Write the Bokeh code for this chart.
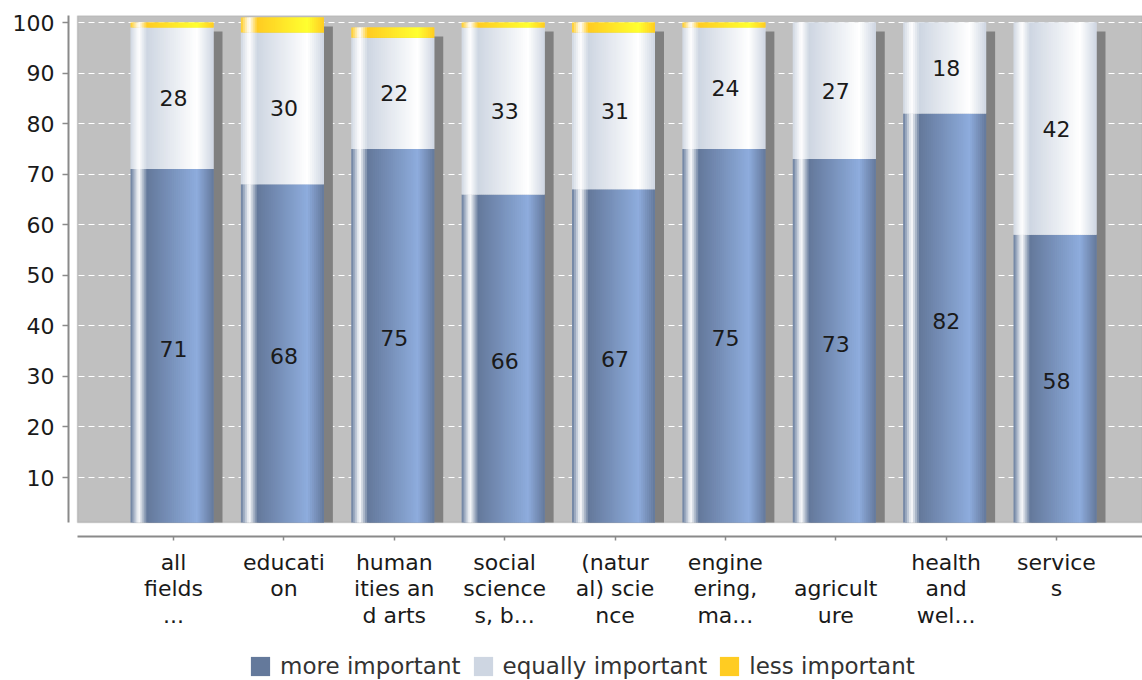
import numpy as np
from bokeh.plotting import figure
from bokeh.models import (Range1d, FixedTicker, BoxAnnotation, ColumnDataSource,
                          Legend, LegendItem)
from bokeh.core.properties import value
from bokeh.embed import file_html
from bokeh.resources import INLINE

# ---------------- data ----------------
categories = ["all\nfields\n...", "educati\non", "human\nities an\nd arts",
              "social\nscience\ns, b...", "(natur\nal) scie\nnce",
              "engine\nering,\nma...", "\nagricult\nure", "health\nand\nwel...",
              "service\ns"]
more_important = [71, 68, 75, 66, 67, 75, 73, 82, 58]
equally_important = [28, 30, 22, 33, 31, 24, 27, 18, 42]
less_important = [1, 3, 2, 1, 2, 1, 0, 0, 0]
series_names = ["more important", "equally important", "less important"]
series_colors = [(100, 121, 155), (206, 214, 226), (255, 204, 34)]
y_ticks = [10, 20, 30, 40, 50, 60, 70, 80, 90, 100]

# ---------------- geometry (pixels -> data) ----------------
W, H = 1142, 680
FL, FR, FT, FB = 68, 1142, 15, 680          # frame edges on canvas
PX_X = 110.375                              # px per category
TICK0 = 173                                 # canvas x of first category
PX_Y = 5.0556                               # px per y unit
Y100 = 22                                   # canvas y of value 100
x_start = -(TICK0 - FL) / PX_X
x_end = x_start + (FR - FL) / PX_X
y_end = 100 + (Y100 - FT) / PX_Y
y_start = 100 - (FB - Y100) / PX_Y
FLOOR = 100 - (522 - Y100) / PX_Y           # floor of the plot wall
XAXIS_Y = 100 - (536 - Y100) / PX_Y         # category axis line
BOX_LEFT = x_start + 9 / PX_X
BW = 83 / PX_X
OFF = -1.5 / PX_X
SDX, SDY = 9 / PX_X, 9 / PX_Y
NS = 42


def brighter(c):
    return tuple(min(255, int(v / 0.7)) for v in c)


def grad(c0, t):
    c1 = brighter(c0)
    wh = (255, 255, 255)
    stops = [(0.0, c0), (0.1, wh), (0.2, c0), (0.8, c1), (1.0, c0)]
    for (t0, a), (t1, b) in zip(stops[:-1], stops[1:]):
        if t0 <= t <= t1:
            f = (t - t0) / (t1 - t0)
            r = [int(round(a[j] + (b[j] - a[j]) * f)) for j in range(3)]
            return "#%02x%02x%02x" % tuple(r)
    return "#%02x%02x%02x" % c0


p = figure(width=W, height=H, output_backend="svg", toolbar_location=None,
           x_range=Range1d(x_start, x_end), y_range=Range1d(y_start, y_end),
           min_border_left=FL, min_border_right=0, min_border_top=FT,
           min_border_bottom=0)
p.outline_line_color = None
p.background_fill_color = "white"
p.border_fill_color = "white"

# plot wall
p.add_layout(BoxAnnotation(left=BOX_LEFT, bottom=FLOOR, fill_color="#c0c0c0",
                           fill_alpha=1, line_color="#8a8a8a", line_width=1.5,
                           level="image"))

# shadows
totals = [a + b + c for a, b, c in zip(more_important, equally_important, less_important)]
xs = np.arange(len(categories))
p.quad(left=xs + OFF - BW / 2 + SDX, right=xs + OFF + BW / 2 + SDX,
       top=np.array(totals) - SDY, bottom=FLOOR, fill_color="#808080",
       line_color=None)

# stacked gradient bars (drawn as thin overlapping strips)
series = [more_important, equally_important, less_important]
cum = [0] * len(categories)
renderers = []
sw = BW / NS
k_leg = int(round(0.2 * NS - 0.5))
for s, vals in enumerate(series):
    ll, rr, tt, bb, cc = [], [], [], [], []
    for i, v in enumerate(vals):
        if v <= 0:
            continue
        bot = FLOOR if s == 0 else cum[i]
        top = cum[i] + v
        left0 = i + OFF - BW / 2
        for k in range(NS):
            t = (k + 0.5) / NS
            ll.append(left0 + k * sw)
            rr.append(min(left0 + (k + 2) * sw, left0 + BW))
            tt.append(top)
            bb.append(bot)
            cc.append(grad(series_colors[s], t))
    for i, v in enumerate(vals):
        cum[i] += v
    src = ColumnDataSource(dict(left=ll, right=rr, top=tt, bottom=bb, color=cc))
    r = p.quad(left="left", right="right", top="top", bottom="bottom",
               fill_color="color", line_color=None, source=src)
    renderers.append(r)

# value labels
lab_x, lab_y, lab_t = [], [], []
base = [0] * len(categories)
for vals in (more_important, equally_important):
    for i, v in enumerate(vals):
        lab_x.append(i)
        lab_y.append(base[i] + v / 2)
        lab_t.append(str(v))
        base[i] += v
p.text(x=lab_x, y=lab_y, text=lab_t, text_align="center", text_baseline="middle",
       text_font=value("DejaVu Sans"), text_font_size="22px", text_color="#1a1a1a")

# axes
p.xaxis.ticker = FixedTicker(ticks=list(range(len(categories))))
p.xaxis.major_label_overrides = {i: c for i, c in enumerate(categories)}
p.xaxis.bounds = (BOX_LEFT, x_end)
p.xaxis.fixed_location = XAXIS_Y
p.yaxis.ticker = FixedTicker(ticks=y_ticks)
p.yaxis.bounds = (FLOOR, y_end)
for ax in (p.xaxis, p.yaxis):
    ax.axis_line_color = "#8a8a8a"
    ax.axis_line_width = 2
    ax.major_tick_line_color = "#8a8a8a"
    ax.major_tick_line_width = 1.5
    ax.major_tick_in = 0
    ax.minor_tick_line_color = None
    ax.major_label_text_font = "DejaVu Sans"
    ax.major_label_text_font_size = "22px"
    ax.major_label_text_color = "#1a1a1a"
p.xaxis.major_tick_out = 4
p.xaxis.major_label_standoff = 9
p.xaxis.major_label_text_line_height = 1.06
p.yaxis.major_tick_out = 6
p.yaxis.major_label_standoff = 8

p.xgrid.visible = False
p.ygrid.grid_line_color = "white"
p.ygrid.grid_line_dash = "6 4"
p.ygrid.grid_line_width = 1

legend = Legend(items=[LegendItem(label=n, renderers=[r], index=k_leg)
                       for n, r in zip(series_names, renderers)],
                orientation="horizontal", location=(180, 1),
                border_line_color=None, background_fill_alpha=0,
                padding=0, margin=0, spacing=10, glyph_width=24, glyph_height=24,
                label_standoff=8, label_text_font="DejaVu Sans",
                label_text_font_size="23px", label_text_color="#333333")
p.add_layout(legend)

open("out.html", "w").write(file_html(p, INLINE))
